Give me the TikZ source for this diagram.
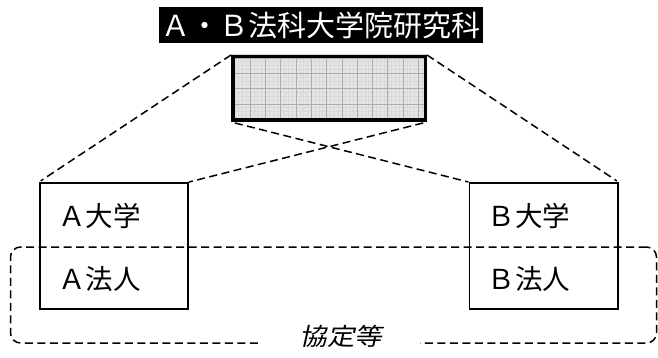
\documentclass[tikz,border=0pt]{standalone}
\usepackage{fontspec}
\newfontfamily\jp{Noto Sans CJK JP}
\newfontfamily\jpi[FakeSlant=0.22,FakeStretch=1.15]{Noto Sans CJK JP}
\begin{document}
\begin{tikzpicture}[x=1pt,y=-1pt,
  dline/.style={dash pattern=on 8pt off 4.5pt, line width=1.5pt},
  unibox/.style={draw, line width=1.8pt, minimum width=148.2pt, minimum height=126.2pt, inner sep=0},
  boxtext/.style={anchor=west, inner sep=0, font=\jp\fontsize{27.5}{27.5}\selectfont}
]
\useasboundingbox (0,0) rectangle (658,358);

% title
\node[fill=black, text=white, minimum width=324pt, minimum height=36pt, inner sep=0,
      font=\jp\fontsize{29}{29}\selectfont] (title) at (321,25) {Ａ・Ｂ法科大学院研究科};

% gray grid box
\node[fill=gray!20, minimum width=196pt, minimum height=67pt, inner sep=0] (grayfill) at (329,88.5) {};
\begin{scope}
  \clip (231,55) rectangle (427,122);
  \foreach \i in {0,...,52} {
    \pgfmathsetmacro{\xx}{227+\i*3.825}
    \draw[gray!30, line width=0.3pt] (\xx,55) -- (\xx,122);
  }
  \foreach \j in {0,...,18} {
    \pgfmathsetmacro{\yy}{54+\j*3.825}
    \draw[gray!30, line width=0.3pt] (231,\yy) -- (427,\yy);
  }
  \foreach \i in {0,...,13} {
    \pgfmathsetmacro{\xx}{234.7+\i*15.3}
    \draw[gray!65, line width=0.6pt] (\xx,55) -- (\xx,122);
  }
  \foreach \j in {0,...,4} {
    \pgfmathsetmacro{\yy}{58+\j*15.3}
    \draw[gray!65, line width=0.6pt] (231,\yy) -- (427,\yy);
  }
\end{scope}
\node[draw, line width=3.5pt, minimum width=192.5pt, minimum height=63.5pt, inner sep=0] (gray) at (329,88.5) {};

% university boxes
\node[unibox] (A) at (114,246) {};
\node[unibox] (B) at (543.5,246) {};
\node[boxtext] (Au) at (58,216) {Ａ大学};
\node[boxtext] (Ah) at (58,279) {Ａ法人};
\node[boxtext] (Bu) at (487.5,216) {Ｂ大学};
\node[boxtext] (Bh) at (487.5,279) {Ｂ法人};

% agreement frame
\node[draw, dline, rounded corners=10pt, minimum width=646pt, minimum height=96pt, inner sep=0] (agree) at (333.5,295) {};
\node[fill=white, minimum width=158pt, minimum height=12pt, inner sep=0,
      font=\jpi\fontsize{24}{24}\selectfont] (label) at (341,336) {協定等};

% connectors
\draw[dline, shorten >=2pt] (gray.north west) -- (A.north west);
\draw[dline, shorten >=2pt] (gray.north east) -- (B.north east);
\draw[dline, shorten <=4pt] (gray.south west) -- (B.north west);
\draw[dline, shorten <=4pt] (gray.south east) -- (A.north east);
\end{tikzpicture}
\end{document}
